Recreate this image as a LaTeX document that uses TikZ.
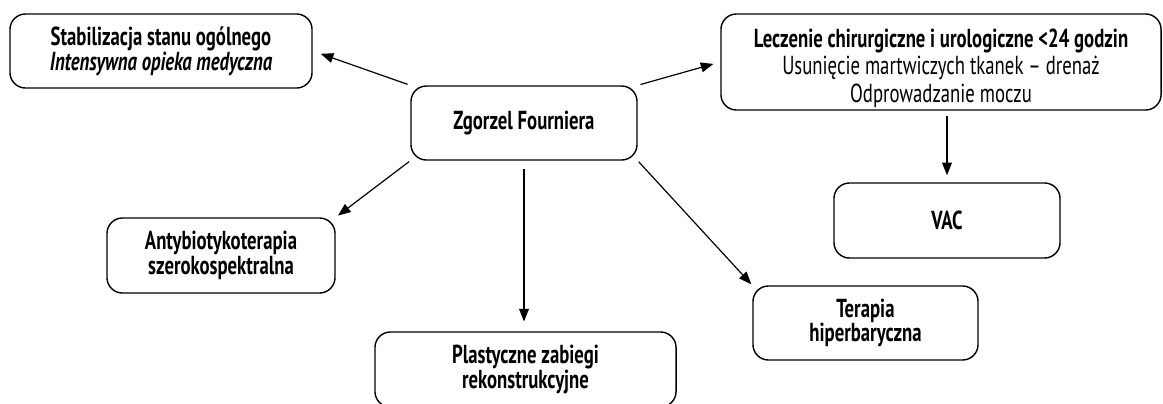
\documentclass[tikz,border=0pt]{standalone}
\usepackage{fontspec}
\setmainfont[FakeStretch=0.72]{PT Sans}
\usetikzlibrary{arrows.meta}

\begin{document}
\begin{tikzpicture}[x=0.025cm,y=-0.025cm,
  box/.style={draw,line width=1pt,rounded corners=11pt,align=center,inner sep=0pt,
    font=\fontsize{18.5}{17.5}\selectfont\bfseries},
  arr/.style={-{Triangle[length=9pt,width=7pt]},line width=0.85pt}]

\useasboundingbox (0,0) rectangle (1163,403);

% boxes
\node [box,minimum width=7.55cm,minimum height=1.85cm] (stab) at (161,51)
  {Stabilizacja stanu ogólnego\\\itshape Intensywna opieka medyczna};
\node [box,minimum width=5.65cm,minimum height=1.85cm] (zf) at (524,123)
  {Zgorzel Fourniera};
\node [box,minimum width=11cm,minimum height=2.4cm,
       font=\fontsize{18.5}{19.5}\selectfont\bfseries] (lecz) at (941,62)
  {\rule{0pt}{22pt}Leczenie chirurgiczne i urologiczne <24 godzin\\
   \mdseries Usunięcie martwiczych tkanek – drenaż\\
   \mdseries Odprowadzanie moczu};
\node [box,minimum width=5.7cm,minimum height=1.875cm] (anty) at (221,255.5)
  {Antybiotykoterapia\\szerokospektralna};
\node [box,minimum width=7.525cm,minimum height=1.875cm] (plast) at (525.5,369.5)
  {Plastyczne zabiegi\\rekonstrukcyjne};
\node [box,minimum width=5.65cm,minimum height=1.875cm] (vac) at (947,220.5)
  {VAC};
\node [box,minimum width=5.625cm,minimum height=1.85cm] (hbo) at (865.5,323)
  {Terapia\\hiperbaryczna};

% arrows
\draw [arr,shorten <=2pt,shorten >=6pt] (zf.north west) -- (stab.east);
\draw [arr,shorten <=2pt,shorten >=5pt] (zf.north east) -- (lecz.west);
\draw [arr,shorten <=1pt,shorten >=2pt] (zf.south west) -- (anty.north east);
\draw [arr,shorten <=6pt,shorten >=7pt] (zf.south) -- (zf.south |- plast.north);
\draw [arr,shorten <=1pt,shorten >=1pt] (zf.south east) -- (hbo.north west);
\draw [arr,shorten <=4pt,shorten >=5pt] (lecz.south -| vac.north) -- (vac.north);

\end{tikzpicture}
\end{document}
